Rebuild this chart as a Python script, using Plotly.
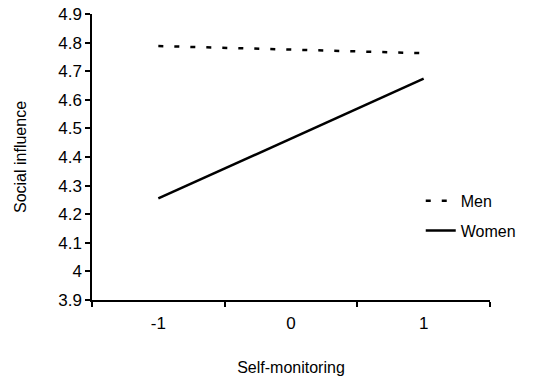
import plotly.graph_objects as go

categories = ["-1", "0", "1"]
men = [4.788, 4.776, 4.763]
women = [4.255, 4.465, 4.674]
y_ticks = [3.9, 4.0, 4.1, 4.2, 4.3, 4.4, 4.5, 4.6, 4.7, 4.8, 4.9]
y_tick_text = ["3.9", "4", "4.1", "4.2", "4.3", "4.4", "4.5", "4.6", "4.7", "4.8", "4.9"]

FONT = "Liberation Sans, Arial, sans-serif"

fig = go.Figure()
fig.add_trace(go.Scatter(x=categories, y=men, mode="lines", name="Men",
                         line=dict(color="black", width=2.5, dash="5px,11px"),
                         legendgroup="m"))
fig.add_trace(go.Scatter(x=categories, y=women, mode="lines", name="Women",
                         line=dict(color="black", width=2.5),
                         legendgroup="w"))

fig.update_layout(
    width=533, height=379,
    margin=dict(l=92, r=43, t=14, b=79),
    paper_bgcolor="white", plot_bgcolor="white",
    font=dict(family=FONT, size=16, color="black"),
    showlegend=True,
    legend=dict(x=0.826, y=0.406, xanchor="left", yanchor="top",
                bgcolor="rgba(0,0,0,0)", tracegroupgap=6,
                font=dict(size=16), traceorder="grouped"),
    xaxis=dict(type="category", range=[-0.5, 2.5], tickson="boundaries",
               ticks="outside", ticklen=5, tickwidth=1.5, tickcolor="black",
               ticklabelstandoff=7,
               showline=True, linecolor="black", linewidth=1.5,
               showgrid=False, zeroline=False, automargin=False,
               title=dict(text="Self-monitoring", font=dict(size=16), standoff=30),
               tickfont=dict(size=17)),
    yaxis=dict(range=[3.9, 4.9], tickvals=y_ticks, ticktext=y_tick_text,
               ticks="outside", ticklen=5, tickwidth=1.5, tickcolor="black",
               showline=True, linecolor="black", linewidth=1.5,
               showgrid=False, zeroline=False, automargin=False,
               title=dict(text="Social influence", font=dict(size=16), standoff=28),
               tickfont=dict(size=17)),
)

fig.write_html("out.html", config={"displayModeBar": False},
               post_script="document.body.style.margin='0';")
